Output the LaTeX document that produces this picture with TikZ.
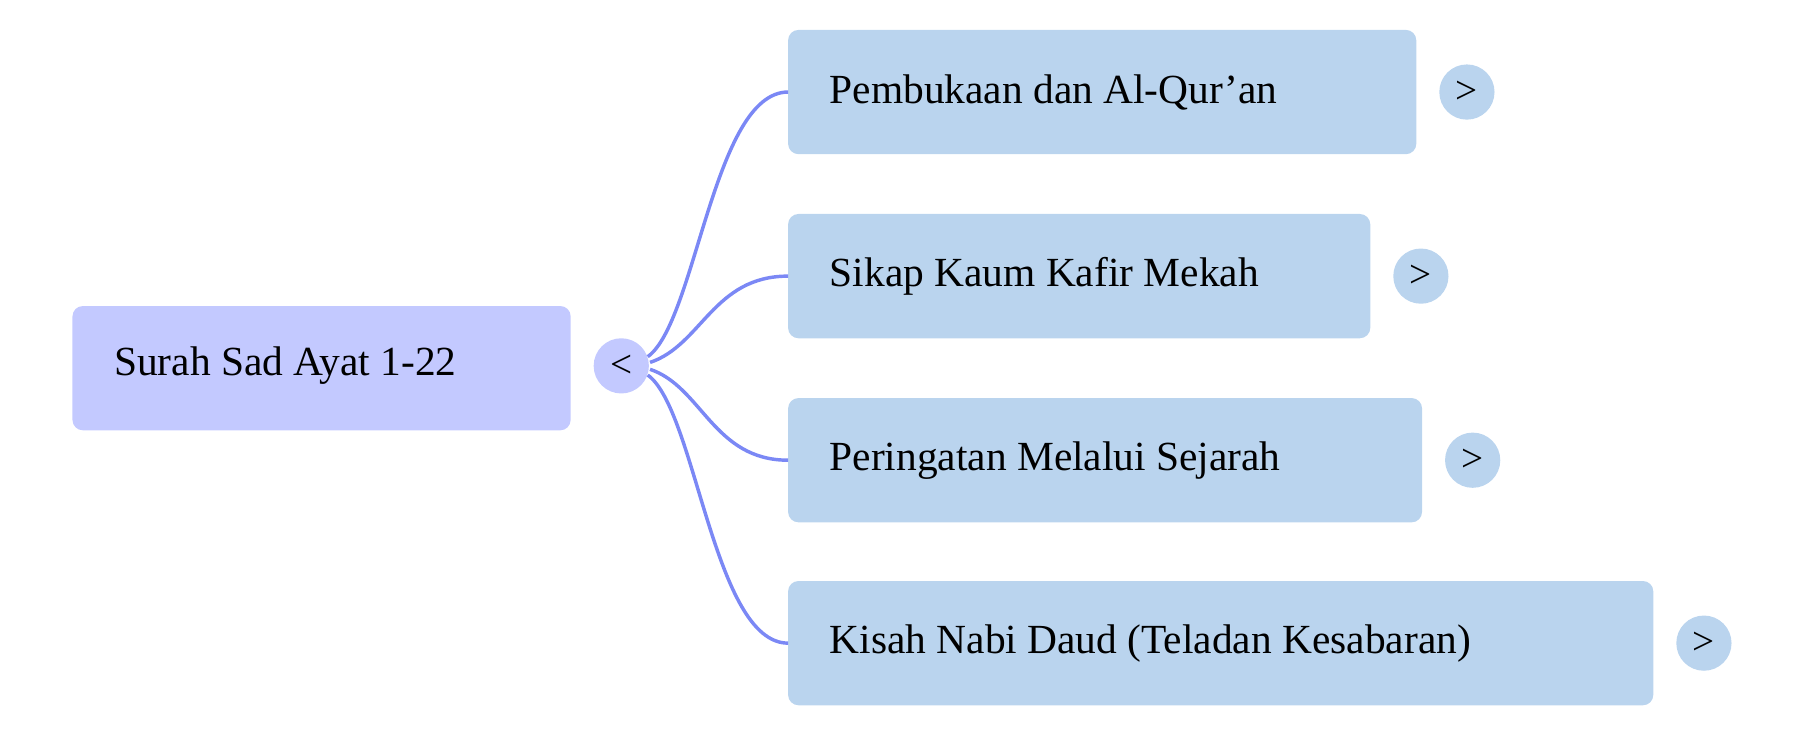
\documentclass[tikz,border=0pt]{standalone}
\usepackage{fontspec}
\setmainfont{Liberation Serif}
\begin{document}
\begin{tikzpicture}[x=1pt,y=-1pt,
  box/.style={rounded corners=9pt,inner sep=0pt,anchor=north west},
  lbl/.style={font=\fontsize{36}{40}\selectfont,anchor=west,inner sep=0pt},
  btn/.style={circle,minimum size=48pt,inner sep=0pt,font=\fontsize{34}{40}\selectfont},
  con/.style={line width=3pt,draw=lnc}]
\definecolor{rootc}{HTML}{C3C9FF}
\definecolor{kidc}{HTML}{BAD4EE}
\definecolor{lnc}{HTML}{7B88F5}
\useasboundingbox (0,0) rectangle (1568,640);
\fill[rootc,rounded corners=9pt] (63,266) rectangle (496,374);
\node[lbl] (r) at (99,318) {Surah Sad Ayat 1-22};
\node[btn,fill=rootc] (rb) at (540,318) {<};
\foreach \i/\y/\r/\t in {1/80/1231/Pembukaan dan Al-Qur'an,2/240/1191/Sikap Kaum Kafir Mekah,3/400/1236/Peringatan Melalui Sejarah,4/559/1437/Kisah Nabi Daud (Teladan Kesabaran)}{
  \fill[kidc,rounded corners=9pt] (685,\y-54) rectangle (\r,\y+54);
  \coordinate (k\i) at (685,\y);
  \node[lbl] (t\i) at (721,\y) {\t};
  \node[btn,fill=kidc] (b\i) at (\r+44,\y) {>};
}
\coordinate (s) at (563,318);
\draw[con] (563,310) .. controls (605,280) and (620,80) .. (k1);
\draw[con] (565,315) .. controls (610,300) and (620,240) .. (k2);
\draw[con] (565,321) .. controls (610,336) and (620,400) .. (k3);
\draw[con] (563,326) .. controls (605,356) and (620,559) .. (k4);
\end{tikzpicture}
\end{document}
